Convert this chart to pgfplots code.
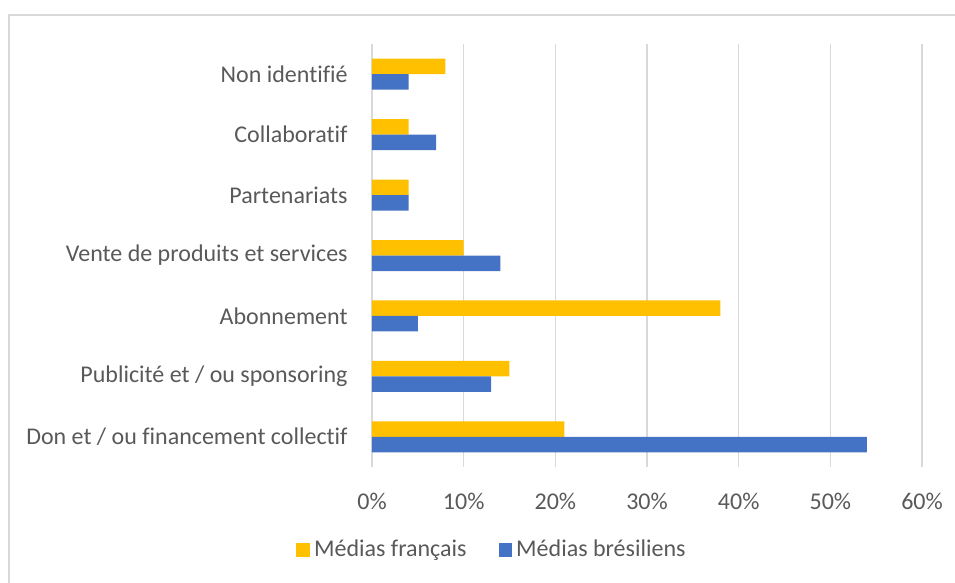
\documentclass[border=0pt]{standalone}
\usepackage{pgfplots}
\pgfplotsset{compat=1.18}
\usepackage{fontspec}
\setmainfont{Carlito}[Ligatures=NoCommon]
\definecolor{fr}{HTML}{FFC000}
\definecolor{br}{HTML}{4472C4}
\definecolor{txt}{HTML}{595959}
\definecolor{gridc}{HTML}{D9D9D9}
\begin{document}
\fontsize{12}{14}\selectfont
\begin{tikzpicture}
\clip (0,0) rectangle (477.5pt,-291.5pt);
\draw[gridc, line width=0.8pt] (4.5pt,-7.5pt) rectangle (490pt,-300pt);
\begin{axis}[
    at={(186pt,-233.5pt)}, anchor=south west,
    scale only axis, width=275pt, height=211.5pt,
    xbar, bar width=7.75pt,
    xmin=0, xmax=60, ymin=-0.5, ymax=6.5,
    axis line style={draw=none},
    xmajorgrids, grid style={gridc, line width=0.7pt},
    xtick={0,10,...,60},
    xticklabel={\pgfmathprintnumber{\tick}\%},
    ytick={0,...,6},
    yticklabels={Don et / ou financement collectif, Publicité et / ou sponsoring, Abonnement, Vente de produits et services, Partenariats, Collaboratif, Non identifié},
    major tick length=0pt,
    tick label style={font=\fontsize{12}{14}\selectfont, text=txt},
    xticklabel style={yshift=-9pt},
    yticklabel style={xshift=-8pt},
    /pgf/number format/assume math mode=true,
    legend style={at={(0.22,-0.196)}, anchor=center, draw=none, fill=none,
        legend columns=2, font=\fontsize{12}{14}\selectfont, text=txt,
        /tikz/every even column/.append style={column sep=14pt}},
    legend cell align=left,
    legend image code/.code={\fill[#1] (0pt,-3.4pt) rectangle (6.8pt,3.4pt);},
]
\addplot[draw=none, fill=fr, bar shift=3.875pt] coordinates {
    (21,0) (15,1) (38,2) (10,3) (4,4) (4,5) (8,6)};
\addplot[draw=none, fill=br, bar shift=-3.875pt] coordinates {
    (54,0) (13,1) (5,2) (14,3) (4,4) (7,5) (4,6)};
\legend{Médias français, Médias brésiliens}
\end{axis}
\end{tikzpicture}
\end{document}
